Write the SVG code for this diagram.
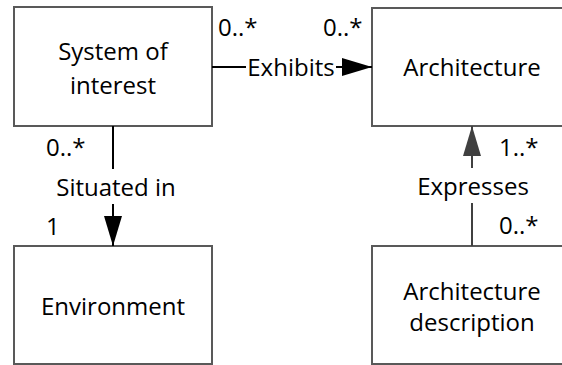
<svg xmlns="http://www.w3.org/2000/svg" width="562" height="365" viewBox="0 0 562 365">
  <style>
    .box { fill: #ffffff; stroke: #595959; stroke-width: 2; }
    .lbl { font-family: "Open Sans", "Noto Sans", sans-serif; font-size: 24px; fill: #000000; }
    .mid { text-anchor: middle; }
    .wire { fill: none; stroke-width: 2; }
    .bg { fill: #ffffff; }
  </style>
  <defs>
    <marker id="headBlack" viewBox="0 0 30 18" refX="30" refY="9" markerWidth="30" markerHeight="18" markerUnits="userSpaceOnUse" orient="auto">
      <path d="M0,0 L30,9 L0,18 Z" fill="#000000"/>
    </marker>
    <marker id="headGrey" viewBox="0 0 30 18" refX="30" refY="9" markerWidth="30" markerHeight="18" markerUnits="userSpaceOnUse" orient="auto">
      <path d="M0,0 L30,9 L0,18 Z" fill="#404040"/>
    </marker>
  </defs>

  <rect width="562" height="365" fill="#ffffff"/>

  <!-- nodes -->
  <g id="system-of-interest">
    <rect class="box" x="14" y="7" width="198" height="119"/>
    <text class="lbl mid" x="113" y="59.5">System of</text>
    <text class="lbl mid" x="113" y="94">interest</text>
  </g>
  <g id="architecture">
    <rect class="box" x="372" y="8" width="200" height="118"/>
    <text class="lbl mid" x="472" y="76">Architecture</text>
  </g>
  <g id="environment">
    <rect class="box" x="14" y="246" width="198" height="118"/>
    <text class="lbl mid" x="113" y="315">Environment</text>
  </g>
  <g id="architecture-description">
    <rect class="box" x="372" y="246" width="200" height="118"/>
    <text class="lbl mid" x="472" y="299.5">Architecture</text>
    <text class="lbl mid" x="472" y="331">description</text>
  </g>

  <!-- connectors -->
  <g id="connectors">
    <!-- Exhibits: system of interest to architecture -->
    <line class="wire" x1="212" y1="67" x2="372" y2="67" stroke="#000000" marker-end="url(#headBlack)"/>
    <rect class="bg" x="246" y="52" width="90" height="32"/>
    <text class="lbl mid" x="291" y="76">Exhibits</text>
    <text class="lbl" x="218" y="35.5">0..*</text>
    <text class="lbl" x="323" y="35.5">0..*</text>

    <!-- Situated in: system of interest to environment -->
    <line class="wire" x1="113" y1="126" x2="113" y2="246" stroke="#000000" marker-end="url(#headBlack)"/>
    <rect class="bg" x="55" y="169" width="122" height="35"/>
    <text class="lbl mid" x="116" y="195.5">Situated in</text>
    <text class="lbl" x="46" y="156">0..*</text>
    <text class="lbl" x="46" y="235">1</text>

    <!-- Expresses: architecture description to architecture -->
    <line class="wire" x1="472" y1="246" x2="472" y2="126" stroke="#404040" marker-end="url(#headGrey)"/>
    <rect class="bg" x="414" y="168" width="118" height="35"/>
    <text class="lbl mid" x="473" y="195">Expresses</text>
    <text class="lbl" x="499" y="155.5">1..*</text>
    <text class="lbl" x="499" y="234">0..*</text>
  </g>
</svg>
